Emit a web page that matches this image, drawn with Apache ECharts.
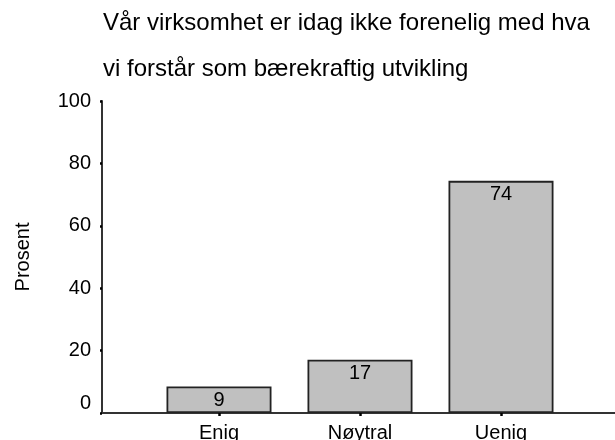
<!DOCTYPE html>
<html>
<head>
<meta charset="utf-8">
<script src="https://cdn.jsdelivr.net/npm/echarts@6/dist/echarts.min.js"></script>
<style>
  html, body { margin: 0; padding: 0; background: #fff; }
  #chart { width: 615px; height: 440px; }
</style>
</head>
<body>
<div id="chart"></div>
<script>
const categories = ['Enig', 'Nøytral', 'Uenig']
const values = [8.5, 17.1, 74.4]
const labels = ['9', '17', '74']
const yTicks = [0, 20, 40, 60, 80, 100]

const font = 'Liberation Sans, Arial, sans-serif'
const chart = echarts.init(document.getElementById('chart'))

chart.setOption({
  animation: false,
  title: {
    text: 'Vår virksomhet er idag ikke forenelig med hva\nvi forstår som bærekraftig utvikling',
    left: 103,
    top: 0,
    padding: 0,
    textStyle: { fontFamily: font, fontSize: 24, fontWeight: 'normal', color: '#000', lineHeight: 46 }
  },
  grid: [
    { left: 102, right: 0, top: 101, bottom: 27, outerBoundsMode: 'none', containLabel: false },
    { left: 148.5, width: 423, top: 101, bottom: 27, outerBoundsMode: 'none', containLabel: false }
  ],
  xAxis: [{
    gridIndex: 0,
    type: 'value',
    min: 0,
    max: 1,
    axisLine: { show: true, lineStyle: { color: '#333', width: 2 } },
    axisTick: { show: false },
    axisLabel: { show: false },
    splitLine: { show: false }
  }, {
    gridIndex: 1,
    type: 'category',
    data: categories,
    axisLine: { show: false },
    axisTick: { show: true, alignWithLabel: true, length: 3, lineStyle: { color: '#000', width: 2.5 } },
    axisLabel: { margin: 10, fontFamily: font, fontSize: 20, color: '#000' }
  }],
  yAxis: [{
    gridIndex: 0,
    type: 'value',
    min: yTicks[0],
    max: yTicks[yTicks.length - 1],
    interval: 20,
    name: 'Prosent',
    nameLocation: 'middle',
    nameGap: 69,
    nameTextStyle: { fontFamily: font, fontSize: 20, color: '#000' },
    axisLine: { show: true, lineStyle: { color: '#333', width: 2 } },
    axisTick: { show: true, length: 2, lineStyle: { color: '#000', width: 2.5 } },
    axisLabel: {
      margin: 11,
      fontFamily: font,
      fontSize: 20,
      color: '#000',
      formatter: function (v) { return v === 0 ? '{z|0}' : String(v) },
      rich: { z: { fontFamily: font, fontSize: 20, color: '#000', padding: [0, 0, 20, 0] } }
    },
    splitLine: { show: false }
  }, {
    gridIndex: 1,
    type: 'value',
    min: 0,
    max: 100,
    show: false
  }],
  series: [{
    type: 'bar',
    xAxisIndex: 1,
    yAxisIndex: 1,
    data: values,
    barWidth: 105,
    itemStyle: { color: '#c0c0c0', borderColor: '#222', borderWidth: 1.8 },
    label: {
      show: true,
      position: 'insideTop',
      distance: 4,
      fontFamily: font,
      fontSize: 20,
      color: '#000',
      formatter: function (p) { return labels[p.dataIndex] }
    }
  }]
})
</script>
</body>
</html>
